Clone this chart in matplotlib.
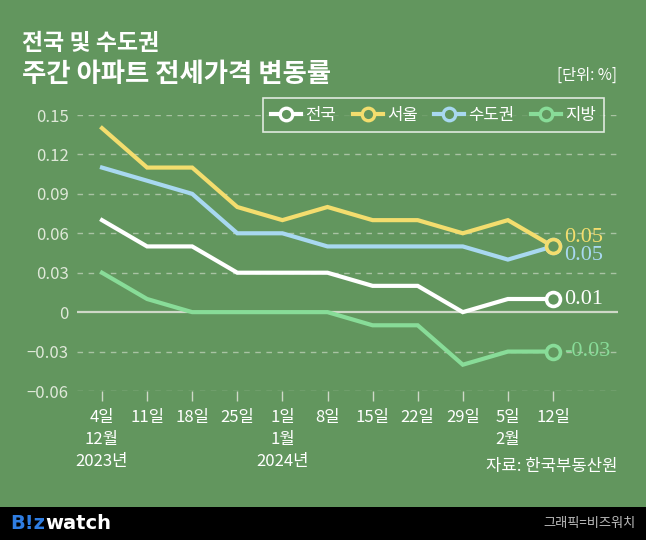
import matplotlib
matplotlib.use("Agg")
import matplotlib.pyplot as plt
from matplotlib.lines import Line2D

plt.rcParams['font.family'] = ['Noto Sans CJK KR', 'DejaVu Sans']

# ---- data ----
x_labels = ["4일\n12월\n2023년", "11일", "18일", "25일", "1일\n1월\n2024년", "8일",
            "15일", "22일", "29일", "5일\n2월", "12일"]
series_names = ["전국", "서울", "수도권", "지방"]
nationwide = [0.07, 0.05, 0.05, 0.03, 0.03, 0.03, 0.02, 0.02, 0.00, 0.01, 0.01]
seoul = [0.14, 0.11, 0.11, 0.08, 0.07, 0.08, 0.07, 0.07, 0.06, 0.07, 0.05]
capital = [0.11, 0.10, 0.09, 0.06, 0.06, 0.05, 0.05, 0.05, 0.05, 0.04, 0.05]
provinces = [0.03, 0.01, 0.00, 0.00, 0.00, 0.00, -0.01, -0.01, -0.04, -0.03, -0.03]
y_ticks = [-0.06, -0.03, 0, 0.03, 0.06, 0.09, 0.12, 0.15]
y_tick_labels = ["−0.06", "−0.03", "0", "0.03", "0.06", "0.09", "0.12", "0.15"]
end_labels = ["0.01", "0.05", "0.05", "-0.03"]

BG = "#62965e"
colors = ["#ffffff", "#f3dd6e", "#a8d8f0", "#88dc98"]
series = [nationwide, seoul, capital, provinces]

fig = plt.figure(figsize=(6.46, 5.40), dpi=100, facecolor=BG)
W, H = 646, 540

def fx(px):
    return px / W

def fy(py):
    return 1 - py / H

AX_L, AX_R = 77, 618
ax = fig.add_axes([fx(AX_L), fy(391), fx(AX_R) - fx(AX_L), fy(115) - fy(391)])
ax.set_facecolor(BG)
n = len(x_labels)
xs = list(range(n))
# map: 0 -> 102px, 10 -> 553px
ppu = (553 - 102) / 10
ax.set_xlim(-(102 - AX_L) / ppu, 10 + (AX_R - 553) / ppu)
ax.set_ylim(-0.06, 0.15)

for s in ax.spines.values():
    s.set_visible(False)

# gridlines
for yv in y_ticks:
    if yv == 0:
        ax.axhline(0, color="#cfd8c8", lw=1.6, zorder=1)
    else:
        ax.axhline(yv, color="#a9c3a3", lw=1.0, ls=(0, (4, 4)), zorder=1)

ax.set_yticks(y_ticks)
ax.set_yticklabels(y_tick_labels)
ax.set_xticks(xs)
ax.set_xticklabels(x_labels, linespacing=1.4)
ax.tick_params(axis='y', length=0, pad=6, labelsize=12, labelcolor="#dfe8d9")
ax.tick_params(axis='x', length=7, width=1, color="#cfd8c8", direction='out', pad=6,
               labelsize=12, labelcolor="#ffffff")

# drawing order: 지방, 수도권, 전국, 서울 (서울 on top)
z = {3: 3, 2: 4, 0: 5, 1: 6}
for i in [3, 2, 0, 1]:
    ax.plot(xs, series[i], color=colors[i], lw=3.0, zorder=z[i], solid_joinstyle='miter')
    ax.plot(xs[-1], series[i][-1], marker='o', ms=10, mfc=BG, mec=colors[i], mew=2.6,
            zorder=10 + z[i], ls='none')

# end labels
label_offsets = {0: 0.0, 1: 0.0068, 2: -0.0068, 3: 0.0}
for i in range(4):
    ax.annotate(end_labels[i], (xs[-1], series[i][-1] + label_offsets[i]),
                xytext=(8, 0), textcoords='offset points', va='center', ha='left',
                color=colors[i], fontsize=16, family=['Liberation Serif', 'DejaVu Serif'],
                zorder=20)

# legend
handles = [Line2D([0], [0], color=colors[i], lw=3.0, marker='o', ms=9, mfc=BG,
                  mec=colors[i], mew=2.4) for i in range(4)]
leg = fig.legend(handles, series_names, ncol=4, loc='center',
                 bbox_to_anchor=((fx(262) + fx(605)) / 2, (fy(98) + fy(132)) / 2),
                 frameon=True, fontsize=12, handlelength=1.8, handletextpad=0.25,
                 columnspacing=1.0, borderpad=0.5)
leg.get_frame().set_facecolor(BG)
leg.get_frame().set_edgecolor("#ffffff")
leg.get_frame().set_linewidth(1.2)
leg.get_frame().set_boxstyle('square', pad=0)
for t in leg.get_texts():
    t.set_color("#ffffff")

# titles
fig.text(fx(22), fy(43), "전국 및 수도권", fontsize=16.5, fontweight='bold', color="#ffffff",
         va='center', ha='left')
fig.text(fx(22), fy(74), "주간 아파트 전세가격 변동률", fontsize=19, fontweight='bold',
         color="#ffffff", va='center', ha='left')
fig.text(fx(617), fy(75), "[단위: %]", fontsize=11, color="#ffffff", va='center', ha='right')
fig.text(fx(617), fy(467), "자료: 한국부동산원", fontsize=12, color="#ffffff",
         va='center', ha='right')

# footer bar
bar = fig.add_axes([0, 0, 1, fy(507)])
bar.set_facecolor("#000000")
bar.set_xticks([]); bar.set_yticks([])
for s in bar.spines.values():
    s.set_visible(False)
bar.text(fx(10), 0.5, "B!z", color="#2f7de1", fontsize=14, fontweight='bold',
         va='center', ha='left', transform=bar.transAxes, family=['DejaVu Sans'])
bar.text(fx(45), 0.5, "watch", color="#ffffff", fontsize=14, fontweight='bold',
         va='center', ha='left', transform=bar.transAxes, family=['DejaVu Sans'])
bar.text(fx(636), 0.5, "그래픽=비즈워치", color="#bdbdbd", fontsize=9.5,
         va='center', ha='right', transform=bar.transAxes)

fig.savefig("out.png", dpi=100, facecolor=BG)
